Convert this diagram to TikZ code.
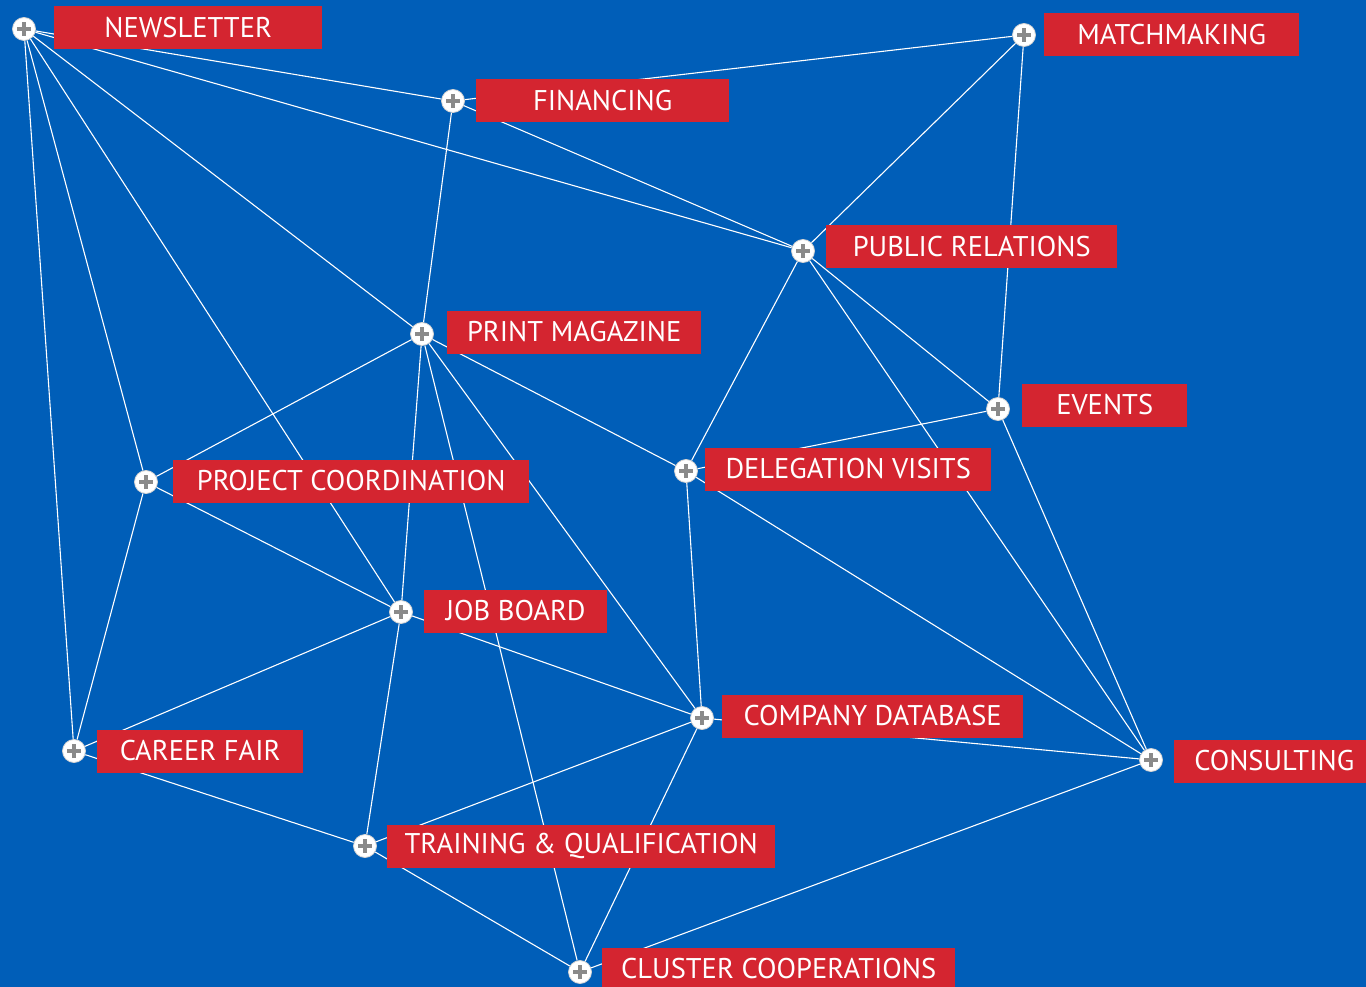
\documentclass[tikz,border=0pt]{standalone}
\usepackage{fontspec}
\setmainfont{PT Sans}
\usepackage{tikz}
\definecolor{sitebg}{HTML}{005EB8}
\definecolor{tagred}{HTML}{D42530}
\definecolor{plusgray}{HTML}{8A8A8A}
\tikzset{hub/.style={circle, fill=white, draw=gray!35, line width=0.8pt, minimum size=23pt, inner sep=0pt,
    path picture={
      \draw[plusgray, line width=4pt] ([xshift=-7pt]path picture bounding box.center) -- ([xshift=7pt]path picture bounding box.center);
      \draw[plusgray, line width=4pt] ([yshift=-7pt]path picture bounding box.center) -- ([yshift=7pt]path picture bounding box.center);
    }}}
\tikzset{tag/.style={anchor=west, fill=tagred, text=white, minimum height=43pt, inner sep=0pt,
    font=\fontsize{28.5}{31}\selectfont, minimum width=#1}}
\tikzset{link/.style={draw=white, line width=1.1pt}}

\begin{document}
\begin{tikzpicture}[x=1pt, y=-1pt]
  \fill[sitebg] (0,0) rectangle (1366,987);
  \useasboundingbox (0,0) rectangle (1366,987);

  % hubs
  \node[hub] (nl) at (24,29) {};
  \node[hub] (fin) at (453,101) {};
  \node[hub] (match) at (1024,35) {};
  \node[hub] (pr) at (803,251) {};
  \node[hub] (print) at (422,334) {};
  \node[hub] (events) at (998,409) {};
  \node[hub] (deleg) at (686,471) {};
  \node[hub] (proj) at (146,482) {};
  \node[hub] (job) at (401,612) {};
  \node[hub] (comp) at (702,718) {};
  \node[hub] (career) at (74,751) {};
  \node[hub] (consult) at (1151,760) {};
  \node[hub] (train) at (365,846) {};
  \node[hub] (cluster) at (580,972) {};

  % links
  \foreach \a/\b in {nl/fin, nl/pr, nl/print, nl/proj, nl/job, nl/career,
      fin/match, fin/pr, fin/print, match/pr, match/events,
      pr/events, pr/deleg, pr/consult,
      print/proj, print/deleg, print/job, print/comp, print/cluster,
      events/deleg, events/consult, deleg/consult, deleg/comp,
      proj/job, proj/career, job/career, job/comp, job/train,
      comp/consult, comp/train, comp/cluster, career/train,
      consult/cluster, train/cluster} {
    \draw[link] (\a) -- (\b);
  }

  % labels
  \node[tag=268pt] (nl-t) at (54,28) {NEWSLETTER};
  \node[tag=253pt] (fin-t) at (476,101) {FINANCING};
  \node[tag=255pt] (match-t) at (1044,35) {MATCHMAKING};
  \node[tag=291pt] (pr-t) at (826,247) {PUBLIC RELATIONS};
  \node[tag=254pt] (print-t) at (447,332) {PRINT MAGAZINE};
  \node[tag=165pt] (events-t) at (1022,405) {EVENTS};
  \node[tag=286pt] (deleg-t) at (705,469) {DELEGATION VISITS};
  \node[tag=356pt] (proj-t) at (173,481) {PROJECT COORDINATION};
  \node[tag=183pt] (job-t) at (424,611) {JOB BOARD};
  \node[tag=301pt] (comp-t) at (722,716) {COMPANY DATABASE};
  \node[tag=206pt] (career-t) at (97,751) {CAREER FAIR};
  \node[tag=200pt] (consult-t) at (1174,761) {CONSULTING};
  \node[tag=388pt] (train-t) at (387,846) {TRAINING \& QUALIFICATION};
  \node[tag=353pt] (cluster-t) at (602,969) {CLUSTER COOPERATIONS};
\end{tikzpicture}
\end{document}
